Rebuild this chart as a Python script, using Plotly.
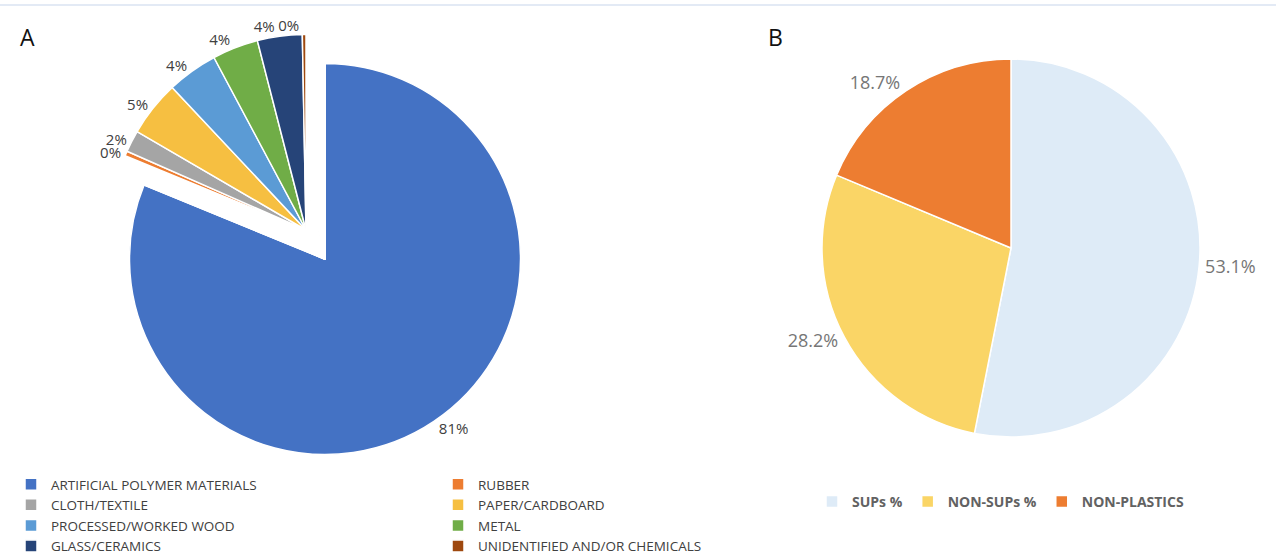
import plotly.graph_objects as go

# ---------------- data ----------------
labels_a = [
    "ARTIFICIAL POLYMER MATERIALS",
    "RUBBER",
    "CLOTH/TEXTILE",
    "PAPER/CARDBOARD",
    "PROCESSED/WORKED WOOD",
    "METAL",
    "GLASS/CERAMICS",
    "UNIDENTIFIED AND/OR CHEMICALS",
]
values_a = [81.2, 0.4, 1.8, 4.6, 4.2, 3.8, 3.7, 0.3]
colors_a = ["#4472c4", "#ed7d31", "#a5a5a5", "#f6bf41", "#5b9bd5", "#70ad47", "#264478", "#9e480e"]

labels_b = ["SUPs %", "NON-SUPs %", "NON-PLASTICS"]
values_b = [53.1, 28.2, 18.7]
colors_b = ["#deebf7", "#fad566", "#ed7d31"]

W, H = 1276, 555
FONT = "Open Sans"
TRANSP = "rgba(0,0,0,0)"
PCT = "%{percent:.0%}"


def dom(cx, cy, r):
    return dict(x=[(cx - r) / W, (cx + r) / W], y=[(H - (cy + r)) / H, (H - (cy - r)) / H])


n = len(values_a)
common = dict(labels=labels_a, values=values_a, sort=False, direction="clockwise", rotation=0)
lab_font_a = dict(family=FONT, size=15, color="#404040")
dom_main = dom(325, 259, 195.5)
dom_expl = dom(306, 230, 195.5)


def only(idx):
    """texttemplate list showing the percent label only for the given slice indices"""
    return [PCT if i in idx else "" for i in range(n)]


fig = go.Figure()

# A: full pie (main slice + legend colours)
fig.add_trace(go.Pie(
    **common,
    marker=dict(colors=colors_a, line=dict(color="white", width=1.5)),
    texttemplate=only({0}), textposition="outside", textfont=lab_font_a,
    domain=dom_main, legend="legend", showlegend=True, hoverinfo="label+percent",
))
# A: white cover for the un-exploded small slices
fig.add_trace(go.Pie(
    **common,
    marker=dict(colors=[TRANSP] + ["white"] * (n - 1),
                line=dict(color=[TRANSP] + ["white"] * (n - 1), width=2)),
    textinfo="none", domain=dom_main, showlegend=False, hoverinfo="skip",
))
# A: exploded group of small slices
fig.add_trace(go.Pie(
    **common,
    marker=dict(colors=[TRANSP] + colors_a[1:],
                line=dict(color=[TRANSP] + ["white"] * (n - 1), width=1.5)),
    texttemplate=only({1, 3, 5}), textposition="outside",
    textfont=lab_font_a, domain=dom_expl, showlegend=False, hoverinfo="label+percent",
))
# A: remaining labels of the exploded group (same geometry, no fill)
for idx in ({2, 4, 6}, {7}):
    fig.add_trace(go.Pie(
        **common,
        marker=dict(colors=[TRANSP] * n, line=dict(color=TRANSP, width=0)),
        texttemplate=only(idx), textposition="outside",
        textfont=lab_font_a, domain=dom_expl, showlegend=False, hoverinfo="skip",
    ))

# B
fig.add_trace(go.Pie(
    labels=labels_b, values=values_b, sort=False, direction="clockwise", rotation=0,
    marker=dict(colors=colors_b, line=dict(color="white", width=1.5)),
    texttemplate="%{value:.1f}%", textposition="outside",
    textfont=dict(family=FONT, size=18, color="#767676"),
    domain=dom(1011, 248, 189), legend="legend2", showlegend=True,
))

fig.update_layout(
    width=W, height=H, margin=dict(l=0, r=0, t=0, b=0, autoexpand=False),
    paper_bgcolor="white", plot_bgcolor="white",
    font=dict(family=FONT),
    legend=dict(
        orientation="h", x=11 / W, xanchor="left", y=(H - 469) / H, yanchor="top",
        entrywidth=382, entrywidthmode="pixels",
        font=dict(family=FONT, size=13.5, color="#404040"),
        bgcolor="rgba(0,0,0,0)", traceorder="normal",
    ),
    legend2=dict(
        orientation="h", x=812 / W, xanchor="left", y=(H - 502) / H, yanchor="middle",
        font=dict(family=FONT, size=14, color="#626262", weight="bold"),
        bgcolor="rgba(0,0,0,0)",
    ),
    annotations=[
        dict(text="A", x=18 / W, y=(H - 19) / H, xref="paper", yref="paper",
             xanchor="left", yanchor="top", showarrow=False,
             font=dict(family=FONT, size=23, color="#111111")),
        dict(text="B", x=766 / W, y=(H - 19) / H, xref="paper", yref="paper",
             xanchor="left", yanchor="top", showarrow=False,
             font=dict(family=FONT, size=23, color="#111111")),
    ],
    shapes=[
        dict(type="line", xref="paper", yref="paper", x0=0, x1=1,
             y0=(H - 5) / H, y1=(H - 5) / H, line=dict(color="#e3eaf5", width=2)),
    ],
)

fig.write_html("out.html")
